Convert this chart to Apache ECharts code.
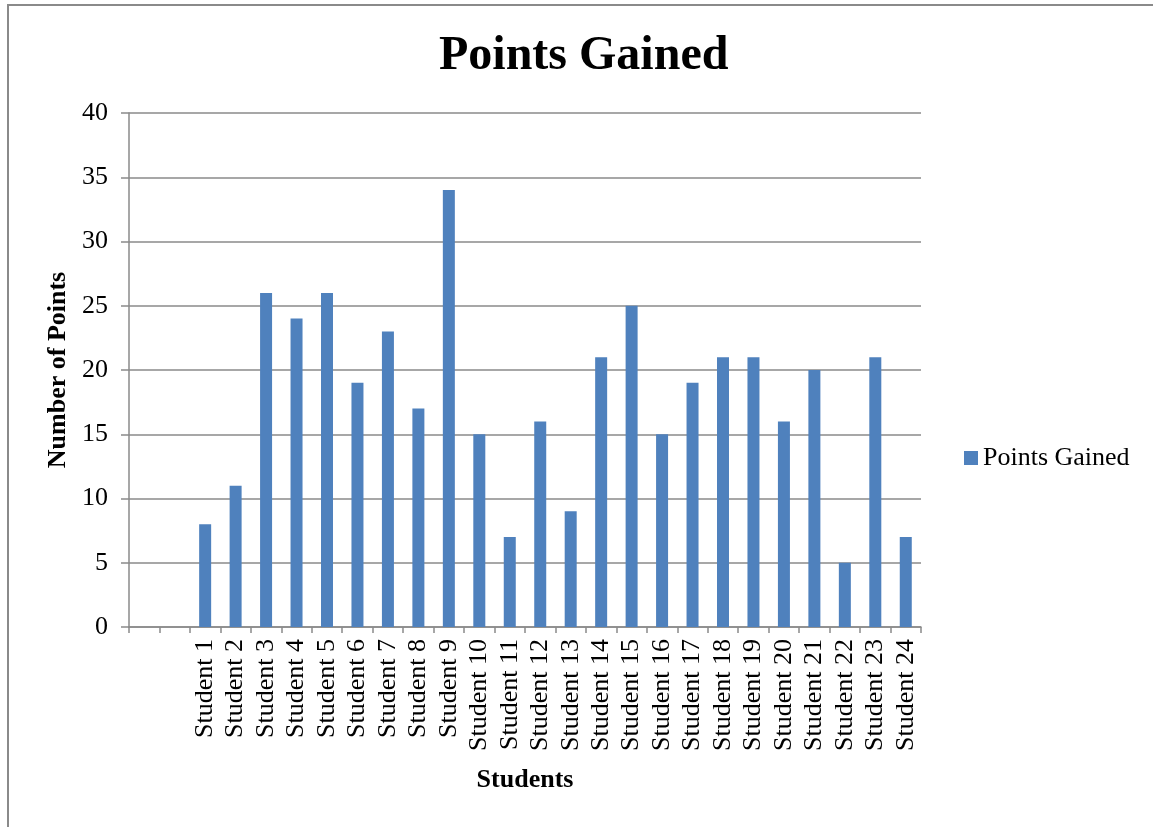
<!DOCTYPE html>
<html>
<head>
<meta charset="utf-8">
<title>Points Gained</title>
<script src="https://cdn.jsdelivr.net/npm/echarts@6/dist/echarts.min.js"></script>
<style>
    html, body { margin: 0; padding: 0; background: #fff; }
    #chart { width: 1153px; height: 827px; }
    /* the outer frame only shows its left and top edges in the picture */
    .frame {
        position: absolute; left: 7px; top: 4px; width: 1160px; height: 840px;
        border-left: 2px solid #8a8a8a; border-top: 2px solid #8a8a8a;
        pointer-events: none;
    }
</style>
</head>
<body>
<div id="chart"></div>
<div class="frame"></div>
<script>
// two empty slots come before the students on the category axis
const categories = ['', '',
    'Student 1', 'Student 2', 'Student 3', 'Student 4', 'Student 5', 'Student 6',
    'Student 7', 'Student 8', 'Student 9', 'Student 10', 'Student 11', 'Student 12',
    'Student 13', 'Student 14', 'Student 15', 'Student 16', 'Student 17', 'Student 18',
    'Student 19', 'Student 20', 'Student 21', 'Student 22', 'Student 23', 'Student 24']
const pointsGained = [null, null,
    8, 11, 26, 24, 26, 19, 23, 17, 34, 15, 7, 16,
    9, 21, 25, 15, 19, 21, 21, 16, 20, 5, 21, 7]

const font = 'Liberation Serif, Times New Roman, serif'
const lineColor = '#8a8a8a'

const chart = echarts.init(document.getElementById('chart'))

chart.setOption({
    animation: false,
    title: {
        text: 'Points Gained',
        left: 434,
        top: 28,
        textStyle: { fontFamily: font, fontSize: 48, fontWeight: 'bold', color: '#000' }
    },
    legend: {
        data: ['Points Gained'],
        left: 959,
        top: 440,
        itemWidth: 14,
        itemHeight: 14,
        icon: 'rect',
        textStyle: { fontFamily: font, fontSize: 26, color: '#000' }
    },
    grid: { left: 129, right: 232, top: 113, bottom: 200 },
    xAxis: {
        type: 'category',
        data: categories,
        name: 'Students',
        nameLocation: 'middle',
        nameGap: 140,
        nameTextStyle: { fontFamily: font, fontSize: 26, fontWeight: 'bold', color: '#000' },
        axisLine: { show: true, lineStyle: { color: lineColor, width: 1.5 } },
        axisTick: { show: true, interval: 0, length: 6, lineStyle: { color: lineColor, width: 1.5 } },
        axisLabel: {
            interval: 0, rotate: 90, margin: 12,
            fontFamily: font, fontSize: 26, color: '#000'
        }
    },
    yAxis: {
        type: 'value',
        min: 0,
        max: 40,
        interval: 5,
        name: 'Number of Points',
        nameLocation: 'middle',
        nameGap: 58,
        nameTextStyle: { fontFamily: font, fontSize: 26, fontWeight: 'bold', color: '#000' },
        axisLine: { show: true, lineStyle: { color: lineColor, width: 1.5 } },
        axisTick: { show: true, length: 8, lineStyle: { color: lineColor, width: 1.5 } },
        axisLabel: { margin: 21, fontFamily: font, fontSize: 26, color: '#000' },
        splitLine: { lineStyle: { color: lineColor, width: 1.5 } }
    },
    series: [
        {
            name: 'Points Gained',
            type: 'bar',
            data: pointsGained,
            barWidth: 12,
            itemStyle: { color: '#4f81bd' }
        }
    ]
})
</script>
</body>
</html>
